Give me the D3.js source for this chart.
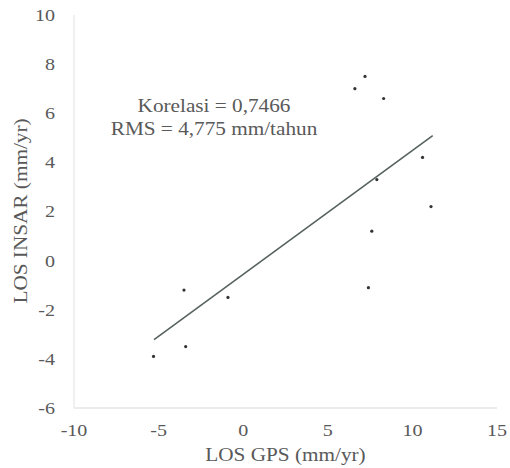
<!DOCTYPE html>
<html><head><meta charset="utf-8">
<script src="https://cdn.jsdelivr.net/npm/d3@7"></script>
<style>body{margin:0;background:#fff}</style>
</head><body>
<svg id="c" width="510" height="468"></svg>
<script>
const gpsValues   = [7.2, 6.6, 8.3, 10.6, 7.9, 11.1, 7.6, 7.4, -3.5, -0.9, -3.4, -5.3];
const insarValues = [7.5, 7.0, 6.6, 4.2, 3.3, 2.2, 1.2, -1.1, -1.2, -1.5, -3.5, -3.9];
const trendX = [-5.27, 11.2];
const trendY = [-3.22, 5.09];
const xTicks = [-10, -5, 0, 5, 10, 15];
const yTicks = [-6, -4, -2, 0, 2, 4, 6, 8, 10];
const annotation = ["Korelasi = 0,7466", "RMS = 4,775 mm/tahun"];
const xTitle = "LOS GPS (mm/yr)";
const yTitle = "LOS INSAR (mm/yr)";

const svg = d3.select("#c");
const font = "'Liberation Serif','Times New Roman',serif";
const grey = "#595959";
const sx = 1.18;
const x = d3.scaleLinear().domain([-10, 15]).range([74, 497]);
const y = d3.scaleLinear().domain([-6, 10]).range([408, 15]);

// axis lines
svg.append("line").attr("x1", x(-10)).attr("x2", x(15)).attr("y1", y(-6)).attr("y2", y(-6))
  .attr("stroke", "#d9d9d9").attr("stroke-width", 1.2);
svg.append("line").attr("x1", x(-10)).attr("x2", x(-10)).attr("y1", y(-6)).attr("y2", y(10))
  .attr("stroke", "#e6e6e6").attr("stroke-width", 1.2);

function txt(t, px, py, anchor, size, rot) {
  const g = svg.append("g").attr("transform", `translate(${px},${py})` + (rot ? ` rotate(${rot})` : "") + ` scale(${sx},1)`);
  g.append("text").text(t).attr("text-anchor", anchor).attr("dominant-baseline", "central")
    .attr("font-family", font).attr("font-size", size).attr("fill", grey);
}

xTicks.forEach(v => txt(String(v), x(v), 430, "middle", 17));
yTicks.forEach(v => txt(String(v), 55, y(v), "end", 17));

txt(xTitle, (x(-10) + x(15)) / 2, 455, "middle", 18);
txt(yTitle, 21, 211, "middle", 18, -90);

// trend line
svg.append("line").attr("x1", x(trendX[0])).attr("y1", y(trendY[0]))
  .attr("x2", x(trendX[1])).attr("y2", y(trendY[1]))
  .attr("stroke", "#56635d").attr("stroke-width", 1.6);

// points
svg.selectAll("circle.p").data(gpsValues).enter().append("circle").attr("class", "p")
  .attr("cx", d => x(d)).attr("cy", (d, i) => y(insarValues[i])).attr("r", 1.6).attr("fill", "#333");

// annotation
txt(annotation[0], 214, 106, "middle", 18);
txt(annotation[1], 214, 129, "middle", 18);
</script>
</body></html>
